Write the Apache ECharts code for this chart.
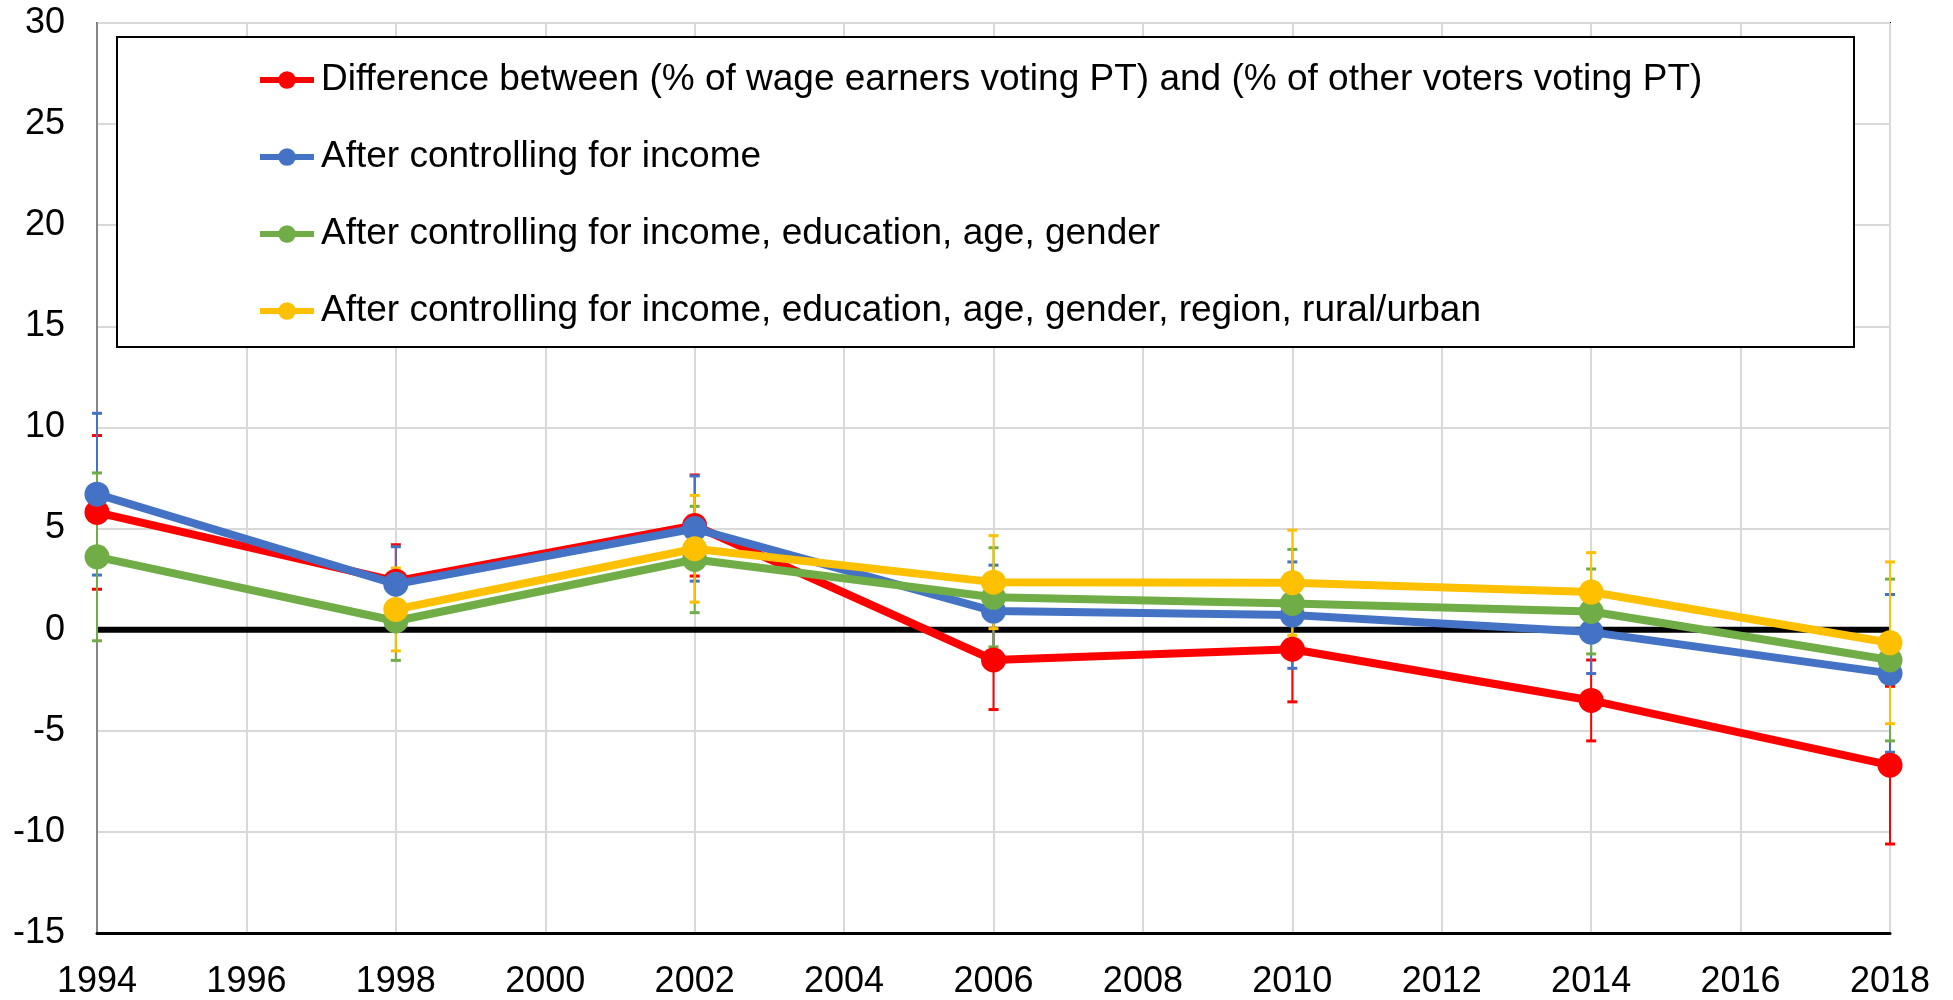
<!DOCTYPE html>
<html>
<head>
<meta charset="utf-8">
<script src="https://cdn.jsdelivr.net/npm/echarts@6/dist/echarts.min.js"></script>
<style>
  html, body { margin: 0; padding: 0; background: #fff; }
  #chart { width: 1953px; height: 1000px; }
</style>
</head>
<body>
<div id="chart"></div>
<script>
// election years
const years = [1994, 1998, 2002, 2006, 2010, 2014, 2018]

// point estimates (percentage points)
const rawDiff = [5.8, 2.4, 5.15, -1.5, -0.97, -3.5, -6.7]
const ctrlIncome = [6.7, 2.25, 5.0, 0.92, 0.72, -0.12, -2.16]
const ctrlDemo = [3.6, 0.43, 3.47, 1.6, 1.3, 0.9, -1.5]
const ctrlFull = [null, 1.0, 4.0, 2.35, 2.32, 1.86, -0.65]

// half-width of the error bars
const rawDiffErr = [3.8, 1.8, 2.5, 2.45, 2.6, 2.0, 3.9]
const ctrlIncomeErr = [4.0, 1.85, 2.6, 2.27, 2.63, 2.05, 3.9]
const ctrlDemoErr = [4.15, 1.95, 2.63, 2.45, 2.67, 2.1, 4.0]
const ctrlFullErr = [null, 2.05, 2.64, 2.3, 2.6, 1.95, 4.0]

const names = [
  'Difference between (% of wage earners voting PT) and (% of other voters voting PT)',
  'After controlling for income',
  'After controlling for income, education, age, gender',
  'After controlling for income, education, age, gender, region, rural/urban',
]
const colors = ['#FF0000', '#4472C4', '#70AD47', '#FFC000']
const values = [rawDiff, ctrlIncome, ctrlDemo, ctrlFull]
const errors = [rawDiffErr, ctrlIncomeErr, ctrlDemoErr, ctrlFullErr]

const font = 'Liberation Sans, Arial, sans-serif'

const chart = echarts.init(document.getElementById('chart'))

// error bar: vertical line plus two small caps
function errorBar(color) {
  return function (params, api) {
    const x = api.value(0)
    const lo = api.coord([x, api.value(1)])
    const hi = api.coord([x, api.value(2)])
    const w = 5
    return {
      type: 'group',
      children: [
        { type: 'line', shape: { x1: lo[0], y1: lo[1], x2: hi[0], y2: hi[1] }, style: { stroke: color, lineWidth: 2 } },
        { type: 'line', shape: { x1: lo[0] - w, y1: lo[1], x2: lo[0] + w, y2: lo[1] }, style: { stroke: color, lineWidth: 3 } },
        { type: 'line', shape: { x1: hi[0] - w, y1: hi[1], x2: hi[0] + w, y2: hi[1] }, style: { stroke: color, lineWidth: 3 } },
      ],
    }
  }
}

const series = []

// zero reference line
series.push({
  name: 'zero',
  type: 'line',
  data: [[years[0], 0], [years[years.length - 1], 0]],
  symbol: 'none',
  silent: true,
  lineStyle: { color: '#000', width: 6 },
  z: 1,
})

values.forEach((vals, k) => {
  const errData = []
  years.forEach((y, i) => {
    if (vals[i] !== null) errData.push([y, vals[i] - errors[k][i], vals[i] + errors[k][i]])
  })
  series.push({
    name: names[k] + ' err',
    type: 'custom',
    renderItem: errorBar(colors[k]),
    data: errData,
    encode: { x: 0, y: [1, 2] },
    clip: false,
    silent: true,
    z: 2,
  })
})

values.forEach((vals, k) => {
  series.push({
    name: names[k],
    type: 'line',
    data: years.map((y, i) => [y, vals[i]]),
    symbol: 'circle',
    symbolSize: 25,
    clip: false,
    itemStyle: { color: colors[k] },
    lineStyle: { color: colors[k], width: 8 },
    z: 3 + k,
  })
})

const option = {
  animation: false,
  backgroundColor: '#fff',
  textStyle: { fontFamily: font },
  grid: {
    left: 97,
    right: 63,
    top: 23,
    bottom: 66,
    show: true,
    borderColor: '#000',
    borderWidth: 2,
  },
  xAxis: {
    type: 'value',
    min: 1994,
    max: 2018,
    interval: 2,
    axisLine: { show: true, onZero: false, lineStyle: { color: '#000', width: 3 } },
    axisTick: { show: false },
    axisLabel: { color: '#000', fontSize: 36, fontFamily: font, margin: 31, formatter: (v) => String(v) },
    splitLine: { show: true, lineStyle: { color: '#d9d9d9', width: 2 } },
  },
  yAxis: {
    type: 'value',
    min: -15,
    max: 30,
    interval: 5,
    axisLine: { show: true, lineStyle: { color: '#868686', width: 2 } },
    axisTick: { show: false },
    axisLabel: { color: '#000', fontSize: 36, fontFamily: font, margin: 32 },
    splitLine: { show: true, lineStyle: { color: '#d9d9d9', width: 2 } },
  },
  graphic: [
    {
      type: 'rect',
      left: 116,
      top: 36,
      shape: { width: 1737, height: 310 },
      style: { fill: '#fff', stroke: '#000', lineWidth: 2 },
      z: 50,
    },
  ],
  legend: {
    data: names,
    orient: 'vertical',
    left: 252,
    top: 52,
    itemWidth: 54,
    itemHeight: 22,
    itemGap: 31,
    z: 60,
    lineStyle: { width: 6 },
    textStyle: { color: '#000', fontSize: 37, fontFamily: font, lineHeight: 46, padding: [0, 0, 0, 2] },
  },
  series: series,
}

chart.setOption(option)
</script>
</body>
</html>
